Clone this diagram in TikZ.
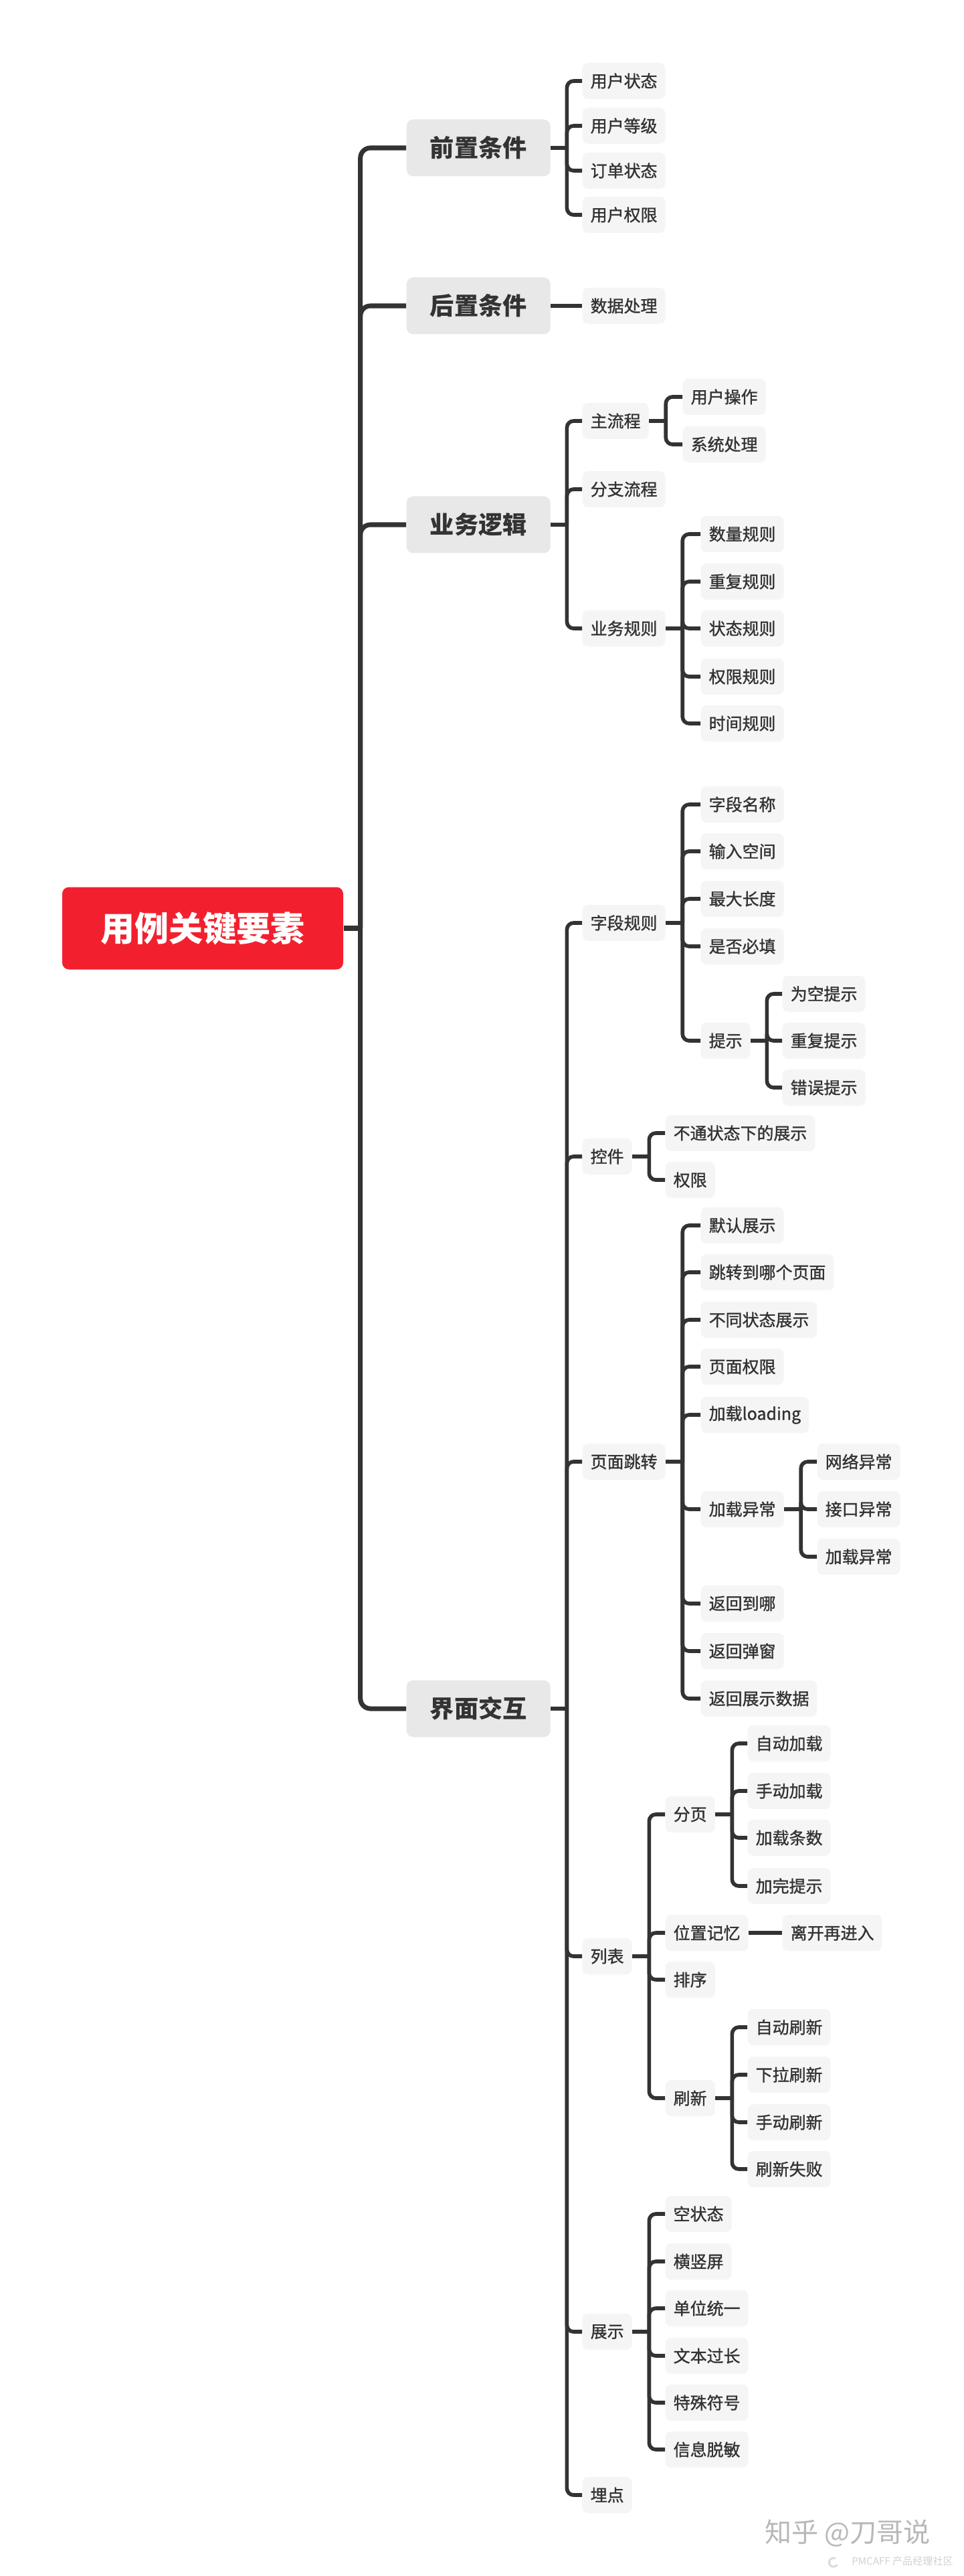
\documentclass[tikz,border=0pt]{standalone}
\usepackage{fontspec}
\setmainfont{Noto Sans CJK SC}
\newfontfamily\itemfont{Noto Sans CJK SC}[FakeBold=1.2]
\usepackage{tikz}
\usetikzlibrary{positioning}

\definecolor{rootred}{HTML}{F2202E}
\definecolor{topicgray}{HTML}{E8E8E8}
\definecolor{itemgray}{HTML}{F5F5F5}
\definecolor{inkgray}{HTML}{333333}

\begin{document}
\begin{tikzpicture}[
        rootbox/.style={rectangle, rounded corners=0.1cm, fill=rootred, minimum width=4.2cm, minimum height=1.23cm, text=white, font=\fontsize{14.5}{16}\selectfont\bfseries},
        topicbox/.style={rectangle, rounded corners=0.1cm, fill=topicgray, minimum width=2.15cm, minimum height=0.85cm, anchor=west, text=inkgray, font=\fontsize{10.3}{12}\selectfont\bfseries},
        itembox/.style={rectangle, rounded corners=0.08cm, fill=itemgray, inner xsep=0.12cm, minimum height=0.54cm, anchor=west, text=inkgray, font=\fontsize{7.1}{8}\selectfont\itemfont},
        trunk/.style={draw=inkgray, line width=2pt, rounded corners=0.15cm},
        branch/.style={draw=inkgray, line width=1.6pt, rounded corners=0.1cm},
        watermark/.style={text=black!28, font=\fontsize{11.4}{13}\selectfont}
    ]
    \useasboundingbox (0,0) rectangle (14.40,-38.49);

    % --- 1. ROOT ---
    \node[rootbox] (root) at (3.03, -13.87) {用例关键要素};

    % --- 2. TOPICS ---
    \node[topicbox] (pre) at (6.07, -2.21) {前置条件};
    \node[topicbox] (post) at (6.07, -4.57) {后置条件};
    \node[topicbox] (biz) at (6.07, -7.84) {业务逻辑};
    \node[topicbox] (ui) at (6.07, -25.53) {界面交互};

    \draw[trunk] (root.east) -- ++(0.25,0) coordinate (rootJ);
    \draw[trunk] (rootJ) |- (pre.west); \draw[trunk] (rootJ) |- (post.west);
    \draw[trunk] (rootJ) |- (biz.west); \draw[trunk] (rootJ) |- (ui.west);

    % --- 3. 前置条件 / 后置条件 ---
    \node[itembox] (pre1) at (8.70, -1.21) {用户状态};
    \node[itembox] (pre2) at (8.70, -1.88) {用户等级};
    \node[itembox] (pre3) at (8.70, -2.55) {订单状态};
    \node[itembox] (pre4) at (8.70, -3.21) {用户权限};
    \node[itembox] (post1) at (8.70, -4.57) {数据处理};

    \draw[branch] (pre.east) -- ++(0.24,0) coordinate (preJ);
    \draw[branch] (preJ) |- (pre1.west); \draw[branch] (preJ) |- (pre2.west);
    \draw[branch] (preJ) |- (pre3.west); \draw[branch] (preJ) |- (pre4.west);
    \draw[branch] (post.east) -- (post1.west);

    % --- 4. 业务逻辑 ---
    \node[itembox] (main) at (8.70, -6.29) {主流程};
    \node[itembox] (fork) at (8.70, -7.31) {分支流程};
    \node[itembox] (rule) at (8.70, -9.39) {业务规则};

    \node[itembox] (main1) at (10.20, -5.93) {用户操作};
    \node[itembox] (main2) at (10.20, -6.64) {系统处理};

    \node[itembox] (rule1) at (10.47, -7.98) {数量规则};
    \node[itembox] (rule2) at (10.47, -8.69) {重复规则};
    \node[itembox] (rule3) at (10.47, -9.39) {状态规则};
    \node[itembox] (rule4) at (10.47, -10.11) {权限规则};
    \node[itembox] (rule5) at (10.47, -10.81) {时间规则};

    \draw[branch] (biz.east) -- ++(0.24,0) coordinate (bizJ);
    \draw[branch] (bizJ) |- (main.west); \draw[branch] (bizJ) |- (fork.west); \draw[branch] (bizJ) |- (rule.west);
    \draw[branch] (main.east) -- ++(0.25,0) coordinate (mainJ);
    \draw[branch] (mainJ) |- (main1.west); \draw[branch] (mainJ) |- (main2.west);
    \draw[branch] (rule.east) -- ++(0.25,0) coordinate (ruleJ);
    \draw[branch] (ruleJ) |- (rule1.west); \draw[branch] (ruleJ) |- (rule2.west); \draw[branch] (ruleJ) |- (rule3.west);
    \draw[branch] (ruleJ) |- (rule4.west); \draw[branch] (ruleJ) |- (rule5.west);

    % --- 5. 界面交互 ---
    \node[itembox] (field) at (8.70, -13.79) {字段规则};
    \node[itembox] (ctrl) at (8.70, -17.28) {控件};
    \node[itembox] (jump) at (8.70, -21.84) {页面跳转};
    \node[itembox] (list) at (8.70, -29.23) {列表};
    \node[itembox] (show) at (8.70, -34.84) {展示};
    \node[itembox] (track) at (8.70, -37.28) {埋点};

    \draw[branch] (ui.east) -- ++(0.24,0) coordinate (uiJ);
    \draw[branch] (uiJ) |- (field.west); \draw[branch] (uiJ) |- (ctrl.west); \draw[branch] (uiJ) |- (jump.west);
    \draw[branch] (uiJ) |- (list.west); \draw[branch] (uiJ) |- (show.west); \draw[branch] (uiJ) |- (track.west);

    % 字段规则
    \node[itembox] (field1) at (10.47, -12.02) {字段名称};
    \node[itembox] (field2) at (10.47, -12.72) {输入空间};
    \node[itembox] (field3) at (10.47, -13.43) {最大长度};
    \node[itembox] (field4) at (10.47, -14.14) {是否必填};
    \node[itembox] (hint) at (10.47, -15.55) {提示};
    \node[itembox] (hint1) at (11.69, -14.85) {为空提示};
    \node[itembox] (hint2) at (11.69, -15.55) {重复提示};
    \node[itembox] (hint3) at (11.69, -16.25) {错误提示};

    \draw[branch] (field.east) -- ++(0.25,0) coordinate (fieldJ);
    \draw[branch] (fieldJ) |- (field1.west); \draw[branch] (fieldJ) |- (field2.west); \draw[branch] (fieldJ) |- (field3.west);
    \draw[branch] (fieldJ) |- (field4.west); \draw[branch] (fieldJ) |- (hint.west);
    \draw[branch] (hint.east) -- ++(0.24,0) coordinate (hintJ);
    \draw[branch] (hintJ) |- (hint1.west); \draw[branch] (hintJ) |- (hint2.west); \draw[branch] (hintJ) |- (hint3.west);

    % 控件
    \node[itembox] (ctrl1) at (9.94, -16.93) {不通状态下的展示};
    \node[itembox] (ctrl2) at (9.94, -17.63) {权限};

    \draw[branch] (ctrl.east) -- ++(0.25,0) coordinate (ctrlJ);
    \draw[branch] (ctrlJ) |- (ctrl1.west); \draw[branch] (ctrlJ) |- (ctrl2.west);

    % 页面跳转
    \node[itembox] (jump1) at (10.47, -18.31) {默认展示};
    \node[itembox] (jump2) at (10.47, -19.01) {跳转到哪个页面};
    \node[itembox] (jump3) at (10.47, -19.72) {不同状态展示};
    \node[itembox] (jump4) at (10.47, -20.42) {页面权限};
    \node[itembox] (jump5) at (10.47, -21.14) {加载loading};
    \node[itembox] (fail) at (10.47, -22.55) {加载异常};
    \node[itembox] (jump6) at (10.47, -23.96) {返回到哪};
    \node[itembox] (jump7) at (10.47, -24.67) {返回弹窗};
    \node[itembox] (jump8) at (10.47, -25.38) {返回展示数据};
    \node[itembox] (fail1) at (12.21, -21.84) {网络异常};
    \node[itembox] (fail2) at (12.21, -22.55) {接口异常};
    \node[itembox] (fail3) at (12.21, -23.26) {加载异常};

    \draw[branch] (jump.east) -- ++(0.25,0) coordinate (jumpJ);
    \draw[branch] (jumpJ) |- (jump1.west); \draw[branch] (jumpJ) |- (jump2.west); \draw[branch] (jumpJ) |- (jump3.west);
    \draw[branch] (jumpJ) |- (jump4.west); \draw[branch] (jumpJ) |- (jump5.west); \draw[branch] (jumpJ) |- (fail.west);
    \draw[branch] (jumpJ) |- (jump6.west); \draw[branch] (jumpJ) |- (jump7.west); \draw[branch] (jumpJ) |- (jump8.west);
    \draw[branch] (fail.east) -- ++(0.25,0) coordinate (failJ);
    \draw[branch] (failJ) |- (fail1.west); \draw[branch] (failJ) |- (fail2.west); \draw[branch] (failJ) |- (fail3.west);

    % 列表
    \node[itembox] (page) at (9.94, -27.11) {分页};
    \node[itembox] (pos) at (9.94, -28.88) {位置记忆};
    \node[itembox] (sort) at (9.94, -29.58) {排序};
    \node[itembox] (ref) at (9.94, -31.35) {刷新};
    \node[itembox] (page1) at (11.17, -26.05) {自动加载};
    \node[itembox] (page2) at (11.17, -26.76) {手动加载};
    \node[itembox] (page3) at (11.17, -27.46) {加载条数};
    \node[itembox] (page4) at (11.17, -28.18) {加完提示};
    \node[itembox] (pos1) at (11.69, -28.88) {离开再进入};
    \node[itembox] (ref1) at (11.17, -30.29) {自动刷新};
    \node[itembox] (ref2) at (11.17, -31.00) {下拉刷新};
    \node[itembox] (ref3) at (11.17, -31.71) {手动刷新};
    \node[itembox] (ref4) at (11.17, -32.41) {刷新失败};

    \draw[branch] (list.east) -- ++(0.25,0) coordinate (listJ);
    \draw[branch] (listJ) |- (page.west); \draw[branch] (listJ) |- (pos.west);
    \draw[branch] (listJ) |- (sort.west); \draw[branch] (listJ) |- (ref.west);
    \draw[branch] (page.east) -- ++(0.25,0) coordinate (pageJ);
    \draw[branch] (pageJ) |- (page1.west); \draw[branch] (pageJ) |- (page2.west);
    \draw[branch] (pageJ) |- (page3.west); \draw[branch] (pageJ) |- (page4.west);
    \draw[branch] (pos.east) -- (pos1.west);
    \draw[branch] (ref.east) -- ++(0.25,0) coordinate (refJ);
    \draw[branch] (refJ) |- (ref1.west); \draw[branch] (refJ) |- (ref2.west);
    \draw[branch] (refJ) |- (ref3.west); \draw[branch] (refJ) |- (ref4.west);

    % 展示
    \node[itembox] (show1) at (9.94, -33.08) {空状态};
    \node[itembox] (show2) at (9.94, -33.79) {横竖屏};
    \node[itembox] (show3) at (9.94, -34.49) {单位统一};
    \node[itembox] (show4) at (9.94, -35.20) {文本过长};
    \node[itembox] (show5) at (9.94, -35.90) {特殊符号};
    \node[itembox] (show6) at (9.94, -36.60) {信息脱敏};

    \draw[branch] (show.east) -- ++(0.25,0) coordinate (showJ);
    \draw[branch] (showJ) |- (show1.west); \draw[branch] (showJ) |- (show2.west); \draw[branch] (showJ) |- (show3.west);
    \draw[branch] (showJ) |- (show4.west); \draw[branch] (showJ) |- (show5.west); \draw[branch] (showJ) |- (show6.west);

    % --- 6. WATERMARK ---
    \node[watermark] (wm) at (12.67, -37.85) {知乎 @刀哥说};
    \node[watermark, text=black!18, font=\fontsize{4.3}{5}\selectfont] (wm2) at (13.49, -38.27) {PMCAFF 产品经理社区};
    \draw[black!15, line width=0.8pt] (12.49,-38.23) arc (60:330:0.065);

\end{tikzpicture}
\end{document}
